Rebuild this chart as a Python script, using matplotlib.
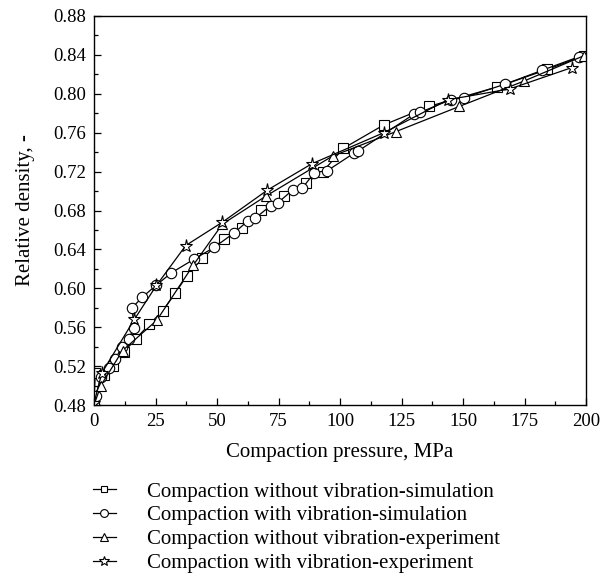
import matplotlib
matplotlib.use("Agg")
import matplotlib.pyplot as plt
from matplotlib.ticker import MultipleLocator, FormatStrFormatter

plt.rcParams['font.family'] = ['Liberation Serif', 'DejaVu Serif']

# Compaction without vibration - simulation (squares)
sq_x = [0, 0.5, 4, 7.6, 12.3, 17, 22.5, 28, 33, 37.8, 44.1, 52.9, 60, 68, 77.2, 86, 93, 101.4, 117.8, 136.1, 163.9, 184.2, 199]
sq_y = [0.483, 0.513, 0.511, 0.520, 0.535, 0.548, 0.563, 0.577, 0.595, 0.613, 0.631, 0.651, 0.662, 0.680, 0.695, 0.708, 0.720, 0.744, 0.768, 0.787, 0.807, 0.825, 0.839]

# Compaction with vibration - simulation (circles)
ci_x = [0, 0.8, 2.8, 6.2, 8.6, 11.4, 14.1, 16.2, 15.5, 19.7, 25.2, 31.5, 40.7, 48.8, 57, 62.4, 65.5, 71.8, 74.8, 80.7, 84.7, 89.6, 94.9, 105.7, 107.3, 130, 132.7, 145, 150.3, 167.2, 182, 197]
ci_y = [0.480, 0.489, 0.509, 0.518, 0.527, 0.540, 0.548, 0.559, 0.580, 0.591, 0.603, 0.616, 0.630, 0.642, 0.657, 0.669, 0.672, 0.685, 0.688, 0.701, 0.703, 0.719, 0.721, 0.739, 0.741, 0.779, 0.781, 0.794, 0.796, 0.810, 0.824, 0.838]

# Compaction without vibration - experiment (triangles)
tr_x = [0, 2.8, 11.6, 25.5, 40.4, 52.2, 70, 97, 122.6, 148.5, 174.7, 199]
tr_y = [0.480, 0.500, 0.536, 0.567, 0.624, 0.666, 0.695, 0.736, 0.761, 0.787, 0.813, 0.839]

# Compaction with vibration - experiment (stars)
st_x = [0, 3.2, 16.4, 25.4, 37.3, 52.2, 70.5, 88.5, 117.8, 144, 169, 194.3]
st_y = [0.482, 0.513, 0.568, 0.603, 0.644, 0.668, 0.701, 0.728, 0.760, 0.794, 0.805, 0.827]

labels = ["Compaction without vibration-simulation",
          "Compaction with vibration-simulation",
          "Compaction without vibration-experiment",
          "Compaction with vibration-experiment"]

fig = plt.figure(figsize=(6.0, 5.81), dpi=100)
ax = fig.add_axes([94/600, 1 - 405/581, (586 - 94)/600, (405 - 16)/581])

common = dict(color='black', lw=0.9, markerfacecolor='white', markeredgecolor='black', markeredgewidth=0.8)
h1, = ax.plot(sq_x, sq_y, marker='s', ms=6.5, label=labels[0], **common)
h2, = ax.plot(ci_x, ci_y, marker='o', ms=7.5, label=labels[1], **common)
h3, = ax.plot(tr_x, tr_y, marker='^', ms=7.5, label=labels[2], **common)
h4, = ax.plot(st_x, st_y, marker='*', ms=9.5, label=labels[3], **common)

ax.set_xlim(0, 200)
ax.set_ylim(0.48, 0.88)
ax.xaxis.set_major_locator(MultipleLocator(25))
ax.xaxis.set_minor_locator(MultipleLocator(12.5))
ax.yaxis.set_major_locator(MultipleLocator(0.04))
ax.yaxis.set_minor_locator(MultipleLocator(0.02))
ax.yaxis.set_major_formatter(FormatStrFormatter('%.2f'))
ax.tick_params(which='both', direction='in', top=False, right=False, labelsize=13.5)
ax.tick_params(which='major', length=5, width=0.9, pad=6)
ax.tick_params(which='minor', length=3, width=0.9)
for sp in ax.spines.values():
    sp.set_linewidth(1.0)

ax.set_xlabel("Compaction pressure, MPa", fontsize=15, labelpad=9)
ax.set_ylabel("Relative density, -", fontsize=15, labelpad=13)

fig.legend(handles=[h1, h2, h3, h4], labels=labels, loc='upper left',
           bbox_to_anchor=(93/600, 1 - 482/581), frameon=False, fontsize=15,
           handlelength=1.1, handletextpad=1.5, labelspacing=0.2, markerscale=0.75,
           borderaxespad=0, borderpad=0)

fig.savefig("out.png", dpi=100)
